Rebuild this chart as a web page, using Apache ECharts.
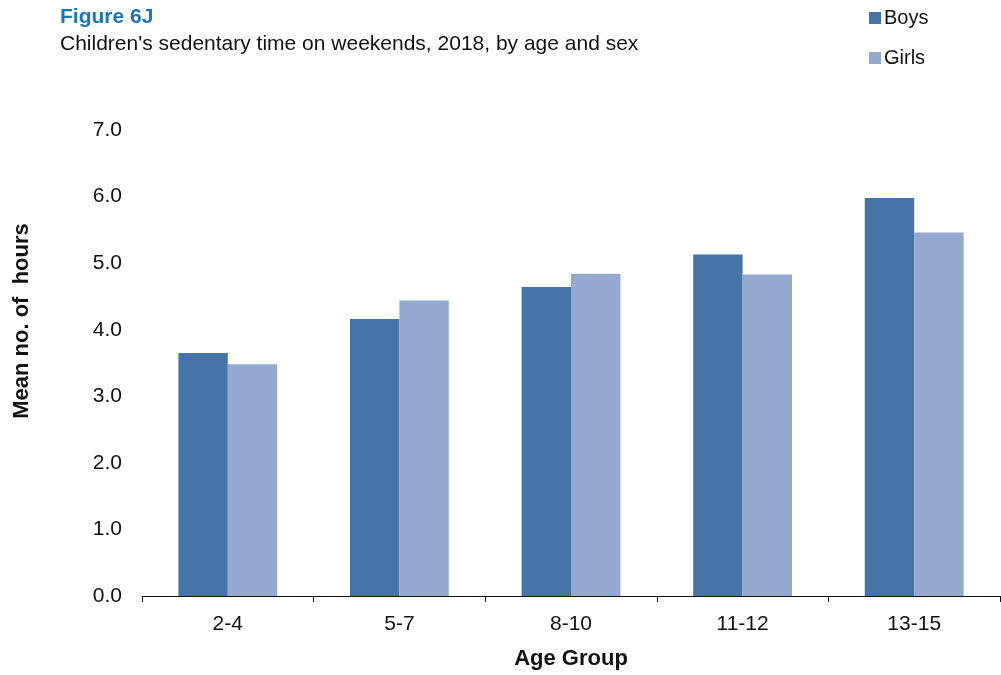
<!DOCTYPE html>
<html>
<head>
<meta charset="utf-8">
<script src="https://cdn.jsdelivr.net/npm/echarts@6/dist/echarts.min.js"></script>
<style>html,body{margin:0;padding:0;background:#fff}#c{width:1001px;height:675px}</style>
</head>
<body>
<div id="c"></div>
<script>
const categories = ['2-4', '5-7', '8-10', '11-12', '13-15'];
const boys = [3.65, 4.16, 4.64, 5.13, 5.98];
const girls = [3.48, 4.44, 4.84, 4.83, 5.46];
const seriesNames = ['Boys', 'Girls'];
const yTicks = { min: 0, max: 7, interval: 1 };
const titleText = 'Figure 6J';
const subtitleText = "Children's sedentary time on weekends, 2018, by age and sex";
const xName = 'Age Group';
const yName = 'Mean no. of  hours';

const FONT = '"Liberation Sans", Arial, sans-serif';
const chart = echarts.init(document.getElementById('c'), null, { renderer: 'canvas' });
chart.setOption({
  animation: false,
  backgroundColor: '#ffffff',
  title: [
    { text: titleText, left: 55, top: 2, textStyle: { fontFamily: FONT, fontSize: 21, fontWeight: 'bold', color: '#1C75BC' } },
    { text: subtitleText, left: 55, top: 29, textStyle: { fontFamily: FONT, fontSize: 21, fontWeight: 'normal', color: '#111' } }
  ],
  legend: {
    orient: 'vertical',
    left: 864, top: 3,
    itemWidth: 12, itemHeight: 12, itemGap: 20,
    icon: 'rect',
    itemStyle: { borderWidth: 0 },
    textStyle: { fontFamily: FONT, fontSize: 20, color: '#111', padding: [0, 0, 0, -2] },
    data: seriesNames
  },
  grid: { left: 142, right: 1, top: 130, bottom: 77, containLabel: false },
  xAxis: {
    type: 'category',
    data: categories,
    name: xName,
    nameLocation: 'middle',
    nameGap: 52,
    nameTextStyle: { fontFamily: FONT, fontSize: 22, fontWeight: 'bold', color: '#111' },
    axisLine: { lineStyle: { color: '#111', width: 1 } },
    axisTick: { show: true, length: 6, lineStyle: { color: '#111' } },
    axisLabel: { fontFamily: FONT, fontSize: 21, color: '#111', margin: 18 }
  },
  yAxis: {
    type: 'value',
    min: yTicks.min, max: yTicks.max, interval: yTicks.interval,
    axisLine: { show: false },
    axisTick: { show: false },
    splitLine: { show: false },
    axisLabel: { fontFamily: FONT, fontSize: 21, color: '#111', margin: 20, formatter: v => v.toFixed(1) }
  },
  graphic: [{
    type: 'text',
    x: 22, y: 321,
    rotation: Math.PI / 2,
    style: { text: yName, fontFamily: FONT, fontSize: 22, fontWeight: 'bold', fill: '#111', align: 'center', verticalAlign: 'middle' }
  }],
  series: [
    { name: seriesNames[0], type: 'bar', data: boys, barWidth: '28.8%', barGap: '0%', itemStyle: { color: '#4674A8' } },
    { name: seriesNames[1], type: 'bar', data: girls, barWidth: '28.8%', barGap: '0%', itemStyle: { color: '#95A9D0' } }
  ]
});
</script>
</body>
</html>
